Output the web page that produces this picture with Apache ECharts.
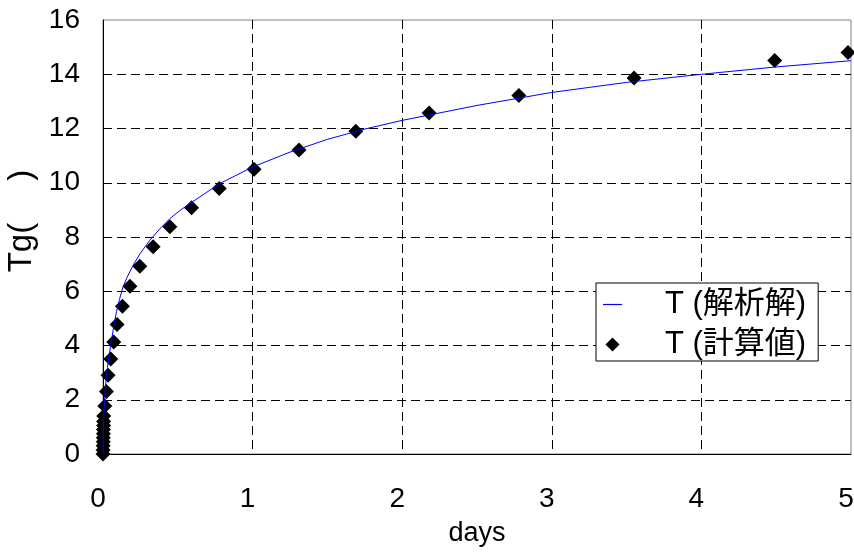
<!DOCTYPE html>
<html><head><meta charset="utf-8">
<script src="https://cdn.jsdelivr.net/npm/echarts@6/dist/echarts.min.js"></script>
<style>html,body{margin:0;padding:0;background:#fff}#c{width:854px;height:553px}</style>
</head><body><div id="c"></div>
<script>
var xTicks = [0, 1, 2, 3, 4, 5];
var yTicks = [0, 2, 4, 6, 8, 10, 12, 14, 16];
var lineName = 'T (解析解)';
var calcName = 'T (計算値)';
var lineX = [0, 0.003, 0.006, 0.012, 0.02, 0.03, 0.04, 0.057, 0.075, 0.09, 0.11, 0.134, 0.16, 0.2, 0.25, 0.313, 0.38, 0.447, 0.52, 0.58, 0.68, 0.78, 0.9, 1.0, 1.25, 1.5, 1.75, 2.0, 2.5, 3.0, 3.5, 4.0, 4.5, 5.0];
var lineY = [0, 1.0, 1.5, 2.1, 2.7, 3.2, 3.6, 4.2, 4.8, 5.25, 5.7, 6.16, 6.5, 6.95, 7.4, 7.88, 8.3, 8.68, 9.0, 9.23, 9.6, 9.97, 10.3, 10.58, 11.13, 11.6, 11.98, 12.3, 12.85, 13.33, 13.7, 14.0, 14.27, 14.5];
var calcX = [0.0, 0.001, 0.001, 0.002, 0.002, 0.003, 0.003, 0.004, 0.004, 0.005, 0.012, 0.023, 0.034, 0.052, 0.072, 0.094, 0.13, 0.18, 0.246, 0.335, 0.447, 0.592, 0.777, 1.01, 1.31, 1.69, 2.18, 2.78, 3.55, 4.49, 4.98];
var calcY = [0, 0.15, 0.3, 0.45, 0.6, 0.75, 0.9, 1.05, 1.2, 1.4, 1.77, 2.3, 2.9, 3.5, 4.13, 4.77, 5.45, 6.18, 6.92, 7.64, 8.38, 9.08, 9.79, 10.5, 11.21, 11.9, 12.57, 13.22, 13.86, 14.51, 14.8];

var FONT = "'Liberation Sans', Arial, 'Noto Sans CJK JP', sans-serif";
function pairs(xs, ys) { return xs.map(function (x, i) { return [x, ys[i]]; }); }

var chart = echarts.init(document.getElementById('c'), null, { renderer: 'canvas' });
chart.setOption({
  animation: false,
  backgroundColor: '#fff',
  textStyle: { fontFamily: FONT },
  grid: { left: 103, right: 3, top: 20, bottom: 99, containLabel: false, outerBoundsMode: 'none',
    show: true, borderColor: '#808080', borderWidth: 1, backgroundColor: 'transparent' },
  legend: {
    orient: 'vertical', left: 596, top: 283,
    backgroundColor: '#fff', borderColor: '#000', borderWidth: 1,
    padding: [6, 12, 1, 7], itemGap: 9, itemWidth: 19, itemHeight: 14,
    symbolKeepAspect: true,
    textStyle: { fontSize: 31, color: '#000', fontFamily: FONT, lineHeight: 30, padding: [0, 0, 0, 38] },
    data: [
      { name: lineName, icon: 'path://M0,0L16,0L16,1L0,1Z', itemStyle: { color: '#0000ff' } },
      { name: calcName, icon: 'path://M7,0L14,7L7,14L0,7Z', itemStyle: { color: '#000' } }
    ]
  },
  xAxis: {
    type: 'value', min: xTicks[0], max: xTicks[xTicks.length - 1], interval: 1,
    name: 'days', nameLocation: 'middle', nameGap: 66,
    nameTextStyle: { fontSize: 27, color: '#000', fontFamily: FONT },
    axisLine: { show: true, onZero: false, lineStyle: { color: '#000', width: 1 } },
    axisTick: { show: false },
    axisLabel: { fontSize: 28, color: '#000', margin: 31, fontFamily: FONT, padding: [0, 10, 0, 0] },
    splitLine: { show: true, showMinLine: false, showMaxLine: false, lineStyle: { color: '#000', width: 1, type: [9, 5] } }
  },
  yAxis: {
    type: 'value', min: yTicks[0], max: yTicks[yTicks.length - 1], interval: 2,
    name: 'Tg( \u3000)', nameLocation: 'middle', nameGap: 57, nameRotate: 90,
    nameTextStyle: { fontSize: 33, color: '#000', fontFamily: FONT, padding: [0, 0, 0, 32] },
    axisLine: { show: true, onZero: false, lineStyle: { color: '#000', width: 1 } },
    axisTick: { show: false },
    axisLabel: { fontSize: 28, color: '#000', margin: 23, fontFamily: FONT },
    splitLine: { show: true, showMinLine: false, showMaxLine: false, lineStyle: { color: '#000', width: 1, type: [9, 5] } }
  },
  series: [
    {
      name: lineName, type: 'line', data: pairs(lineX, lineY), showSymbol: false, symbol: 'none',
      smooth: false, lineStyle: { color: '#0000ff', width: 1 }, itemStyle: { color: '#0000ff' }, z: 3
    },
    {
      name: calcName, type: 'scatter', data: pairs(calcX, calcY), symbol: 'diamond', symbolSize: 15,
      clip: false, itemStyle: { color: '#000', opacity: 1 }, z: 2
    }
  ]
});
</script></body></html>
